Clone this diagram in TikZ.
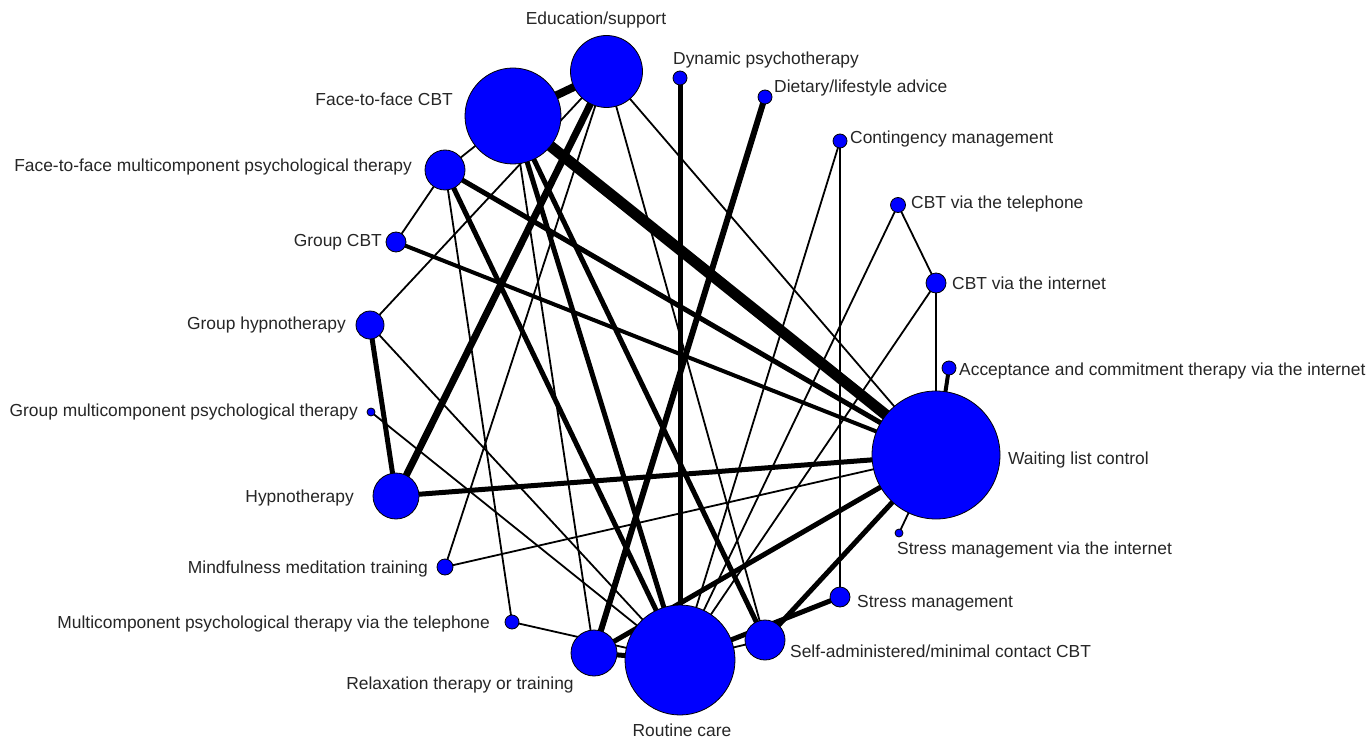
\documentclass[tikz,border=0pt]{standalone}
\usepackage{fontspec}
\setmainfont{Liberation Sans}
\usetikzlibrary{backgrounds}
\definecolor{nodeblue}{RGB}{0,0,255}
\begin{document}
\begin{tikzpicture}[x=1pt,y=-1pt,
  nd/.style={circle,fill=nodeblue,draw=black,line width=0.8pt,inner sep=0pt,minimum size=#1},
  lbl/.style={font=\fontsize{17.4}{20}\selectfont,inner sep=0pt,text=black!85},
  e1/.style={line width=1.8pt},
  e4/.style={line width=4pt},
  e5/.style={line width=5pt},
  e6/.style={line width=6pt},
  e7/.style={line width=7pt},
  e8/.style={line width=8pt},
  e11/.style={line width=11pt}
]
\useasboundingbox (0,0) rectangle (1370,738);
% nodes
\node[nd=72pt]  (ES)   at (606.5,71.5) {};
\node[nd=96pt]  (FFCBT) at (513,116) {};
\node[nd=14pt]  (DP)   at (680,78) {};
\node[nd=14pt]  (DIET) at (765,97) {};
\node[nd=14pt]  (CM)   at (840,141) {};
\node[nd=15pt]  (CTEL) at (898,205) {};
\node[nd=20pt]  (CINT) at (936,283) {};
\node[nd=14pt]  (ACT)  at (949,368) {};
\node[nd=128pt] (WL)   at (936,455) {};
\node[nd=8pt]   (SMI)  at (899,533) {};
\node[nd=20pt]  (SM)   at (840,597) {};
\node[nd=40pt]  (SA)   at (765,640) {};
\node[nd=110pt] (RC)   at (680,660) {};
\node[nd=46pt]  (REL)  at (594,653) {};
\node[nd=14pt]  (MT)   at (512,622) {};
\node[nd=16pt]  (MIND) at (445,567) {};
\node[nd=46pt]  (HYP)  at (396,496) {};
\node[nd=8pt]   (GMPT) at (371,412) {};
\node[nd=28pt]  (GH)   at (370,325) {};
\node[nd=20pt]  (GCBT) at (396,242) {};
\node[nd=40pt]  (FFM)  at (445,170) {};
% labels
\node[lbl,anchor=base]      (lES)   at (596,25)  {Education/support};
\node[lbl,anchor=base west] (lDP)   at (673,65)  {Dynamic psychotherapy};
\node[lbl,anchor=base west] (lDIET) at (774,93)  {Dietary/lifestyle advice};
\node[lbl,anchor=base west] (lCM)   at (850,144) {Contingency management};
\node[lbl,anchor=base west] (lCTEL) at (911,208) {CBT via the telephone};
\node[lbl,anchor=base west] (lCINT) at (952,289) {CBT via the internet};
\node[lbl,anchor=base west] (lACT)  at (959,375) {Acceptance and commitment therapy via the internet};
\node[lbl,anchor=base west] (lWL)   at (1008,464) {Waiting list control};
\node[lbl,anchor=base west] (lSMI)  at (897,554) {Stress management via the internet};
\node[lbl,anchor=base west] (lSM)   at (857,607) {Stress management};
\node[lbl,anchor=base west] (lSA)   at (790,657) {Self-administered/minimal contact CBT};
\node[lbl,anchor=base]      (lRC)   at (682,736) {Routine care};
\node[lbl,anchor=base]      (lREL)  at (460,689) {Relaxation therapy or training};
\node[lbl,anchor=base east] (lMT)   at (490,628) {Multicomponent psychological therapy via the telephone};
\node[lbl,anchor=base east] (lMIND) at (428,573) {Mindfulness meditation training};
\node[lbl,anchor=base east] (lHYP)  at (354,502) {Hypnotherapy};
\node[lbl,anchor=base east] (lGMPT) at (358,416) {Group multicomponent psychological therapy};
\node[lbl,anchor=base east] (lGH)   at (346,329) {Group hypnotherapy};
\node[lbl,anchor=base east] (lGCBT) at (382,246) {Group CBT};
\node[lbl,anchor=base east] (lFFM)  at (412,172) {Face-to-face multicomponent psychological therapy};
\node[lbl,anchor=base east] (lFFCBT) at (453,106) {Face-to-face CBT};
% edges
\begin{pgfonlayer}{background}
\fill[white] (0,0) rectangle (1370,738);
\draw[e1] (FFCBT.center) -- (FFM.center);
\draw[e1] (GCBT.center) -- (FFM.center);
\draw[e1] (ES.center) -- (GH.center);
\draw[e1] (ES.center) -- (MIND.center);
\draw[e1] (ES.center) -- (SA.center);
\draw[e1] (ES.center) -- (WL.center);
\draw[e1] (FFM.center) -- (MT.center);
\draw[e1] (FFCBT.center) -- (REL.center);
\draw[e1] (GH.center) -- (RC.center);
\draw[e1] (GMPT.center) -- (RC.center);
\draw[e1] (MT.center) -- (RC.center);
\draw[e1] (MIND.center) -- (WL.center);
\draw[e1] (RC.center) -- (CM.center);
\draw[e1] (RC.center) -- (CTEL.center);
\draw[e1] (RC.center) -- (CINT.center);
\draw[e1] (CM.center) -- (SM.center);
\draw[e1] (CTEL.center) -- (CINT.center);
\draw[e1] (CINT.center) -- (WL.center);
\draw[e1] (SMI.center) -- (WL.center);
\draw[e1] (RC.center) -- (SA.center);
\draw[e8] (FFCBT.center) -- (ES.center);
\draw[e11] (FFCBT.center) -- (WL.center);
\draw[e5] (FFCBT.center) -- (RC.center);
\draw[e5] (FFCBT.center) -- (SA.center);
\draw[e5] (FFM.center) -- (WL.center);
\draw[e5] (FFM.center) -- (RC.center);
\draw[e4] (GCBT.center) -- (WL.center);
\draw[e7] (ES.center) -- (HYP.center);
\draw[e5] (GH.center) -- (HYP.center);
\draw[e5] (HYP.center) -- (WL.center);
\draw[e5] (DP.center) -- (RC.center);
\draw[e6] (DIET.center) -- (REL.center);
\draw[e5] (REL.center) -- (RC.center);
\draw[e5] (REL.center) -- (WL.center);
\draw[e5] (SA.center) -- (WL.center);
\draw[e5] (RC.center) -- (SM.center);
\draw[e4] (ACT.center) -- (WL.center);
\end{pgfonlayer}
\end{tikzpicture}
\end{document}
